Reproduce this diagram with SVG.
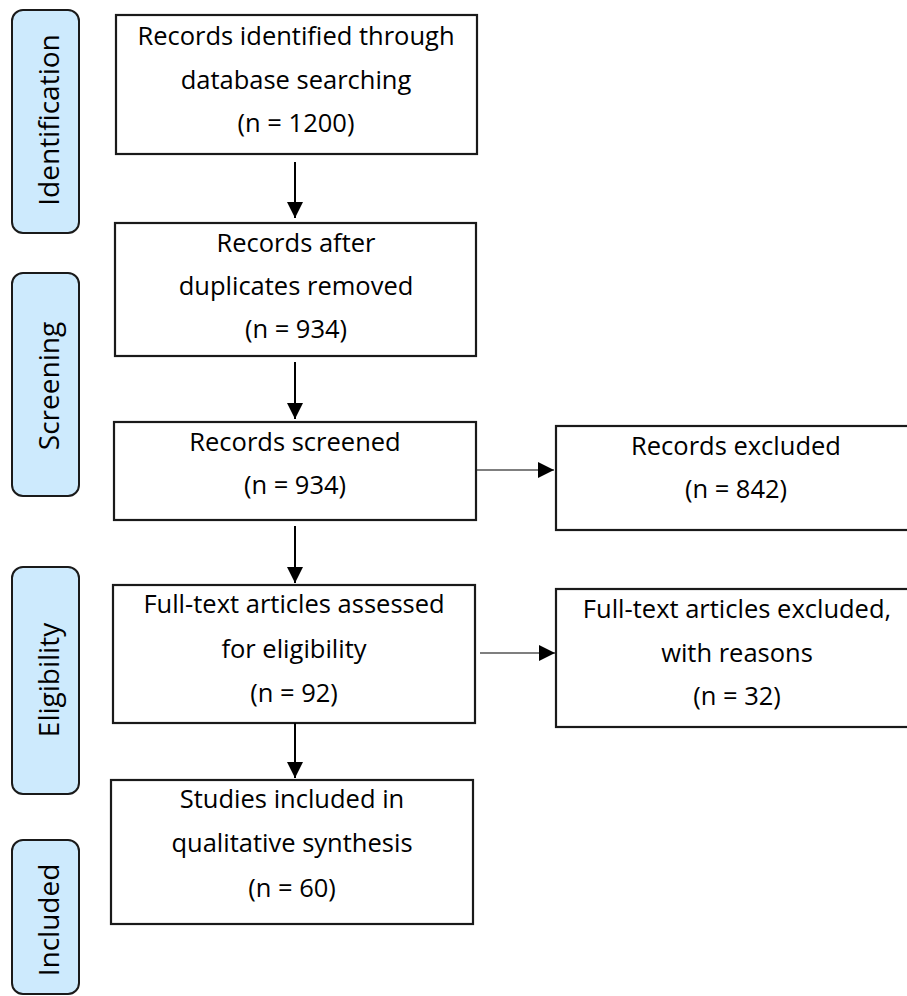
<svg xmlns="http://www.w3.org/2000/svg" width="907" height="996" viewBox="0 0 907 996">
<style>
.stage{fill:#cdeafd;stroke:#1a1a1a;stroke-width:2}
.stext{font-family:"Open Sans","Liberation Sans",sans-serif;font-size:28px;fill:#000;text-anchor:middle}
.box{fill:#fff;stroke:#1a1a1a;stroke-width:2.2}
.t{font-family:"Open Sans","Liberation Sans",sans-serif;font-size:25.5px;fill:#000;text-anchor:middle}
.v{stroke:#000;stroke-width:2;fill:none}
.h{stroke:#000;stroke-width:1.2;fill:none}
</style>
<defs>
<marker id="ah" viewBox="0 0 16 16" refX="16" refY="8" markerWidth="16" markerHeight="16" markerUnits="userSpaceOnUse" orient="auto">
<path d="M0,0 L16,8 L0,16 Z" fill="#000"/>
</marker>
</defs>
<rect width="907" height="996" fill="#fff"/>
<g id="stage-identification">
<rect class="stage" x="12" y="10" width="67" height="223" rx="11"/>
<text class="stext" transform="translate(59,120) rotate(-90)">Identification</text>
</g>
<g id="stage-screening">
<rect class="stage" x="12" y="273" width="67" height="223" rx="11"/>
<text class="stext" transform="translate(59,386) rotate(-90)">Screening</text>
</g>
<g id="stage-eligibility">
<rect class="stage" x="12" y="567" width="67" height="227" rx="11"/>
<text class="stext" transform="translate(59,680) rotate(-90)">Eligibility</text>
</g>
<g id="stage-included">
<rect class="stage" x="12" y="840" width="67" height="154" rx="11"/>
<text class="stext" transform="translate(59,920) rotate(-90)">Included</text>
</g>
<g id="n-identified">
<rect class="box" x="116" y="15" width="361" height="139"/>
<text class="t" x="296" y="45">Records identified through</text>
<text class="t" x="296" y="89">database searching</text>
<text class="t" x="296" y="132">(n = 1200)</text>
</g>
<g id="n-dedup">
<rect class="box" x="115" y="223" width="361" height="133"/>
<text class="t" x="296" y="252">Records after</text>
<text class="t" x="296" y="295">duplicates removed</text>
<text class="t" x="296" y="338">(n = 934)</text>
</g>
<g id="n-screened">
<rect class="box" x="114" y="422" width="362" height="98"/>
<text class="t" x="295" y="451">Records screened</text>
<text class="t" x="295" y="494">(n = 934)</text>
</g>
<g id="n-excluded">
<rect class="box" x="556" y="426" width="362" height="104"/>
<text class="t" x="736" y="455">Records excluded</text>
<text class="t" x="736" y="498">(n = 842)</text>
</g>
<g id="n-fulltext">
<rect class="box" x="113" y="585" width="362" height="138"/>
<text class="t" x="294" y="613">Full-text articles assessed</text>
<text class="t" x="294" y="658">for eligibility</text>
<text class="t" x="294" y="702">(n = 92)</text>
</g>
<g id="n-ft-excluded">
<rect class="box" x="556" y="589" width="362" height="138"/>
<text class="t" x="737" y="618">Full-text articles excluded,</text>
<text class="t" x="737" y="662">with reasons</text>
<text class="t" x="737" y="705">(n = 32)</text>
</g>
<g id="n-included">
<rect class="box" x="111" y="780" width="362" height="144"/>
<text class="t" x="292" y="808">Studies included in</text>
<text class="t" x="292" y="852">qualitative synthesis</text>
<text class="t" x="292" y="897">(n = 60)</text>
</g>
<g id="connectors">
<line class="v" x1="295" y1="162" x2="295" y2="218" marker-end="url(#ah)"/>
<line class="v" x1="295" y1="362" x2="295" y2="419" marker-end="url(#ah)"/>
<line class="v" x1="295" y1="526" x2="295" y2="583" marker-end="url(#ah)"/>
<line class="v" x1="295" y1="723" x2="295" y2="778" marker-end="url(#ah)"/>
<line class="h" x1="477" y1="470" x2="554" y2="470" marker-end="url(#ah)"/>
<line class="h" x1="480" y1="653" x2="555" y2="653" marker-end="url(#ah)"/>
</g>
</svg>
